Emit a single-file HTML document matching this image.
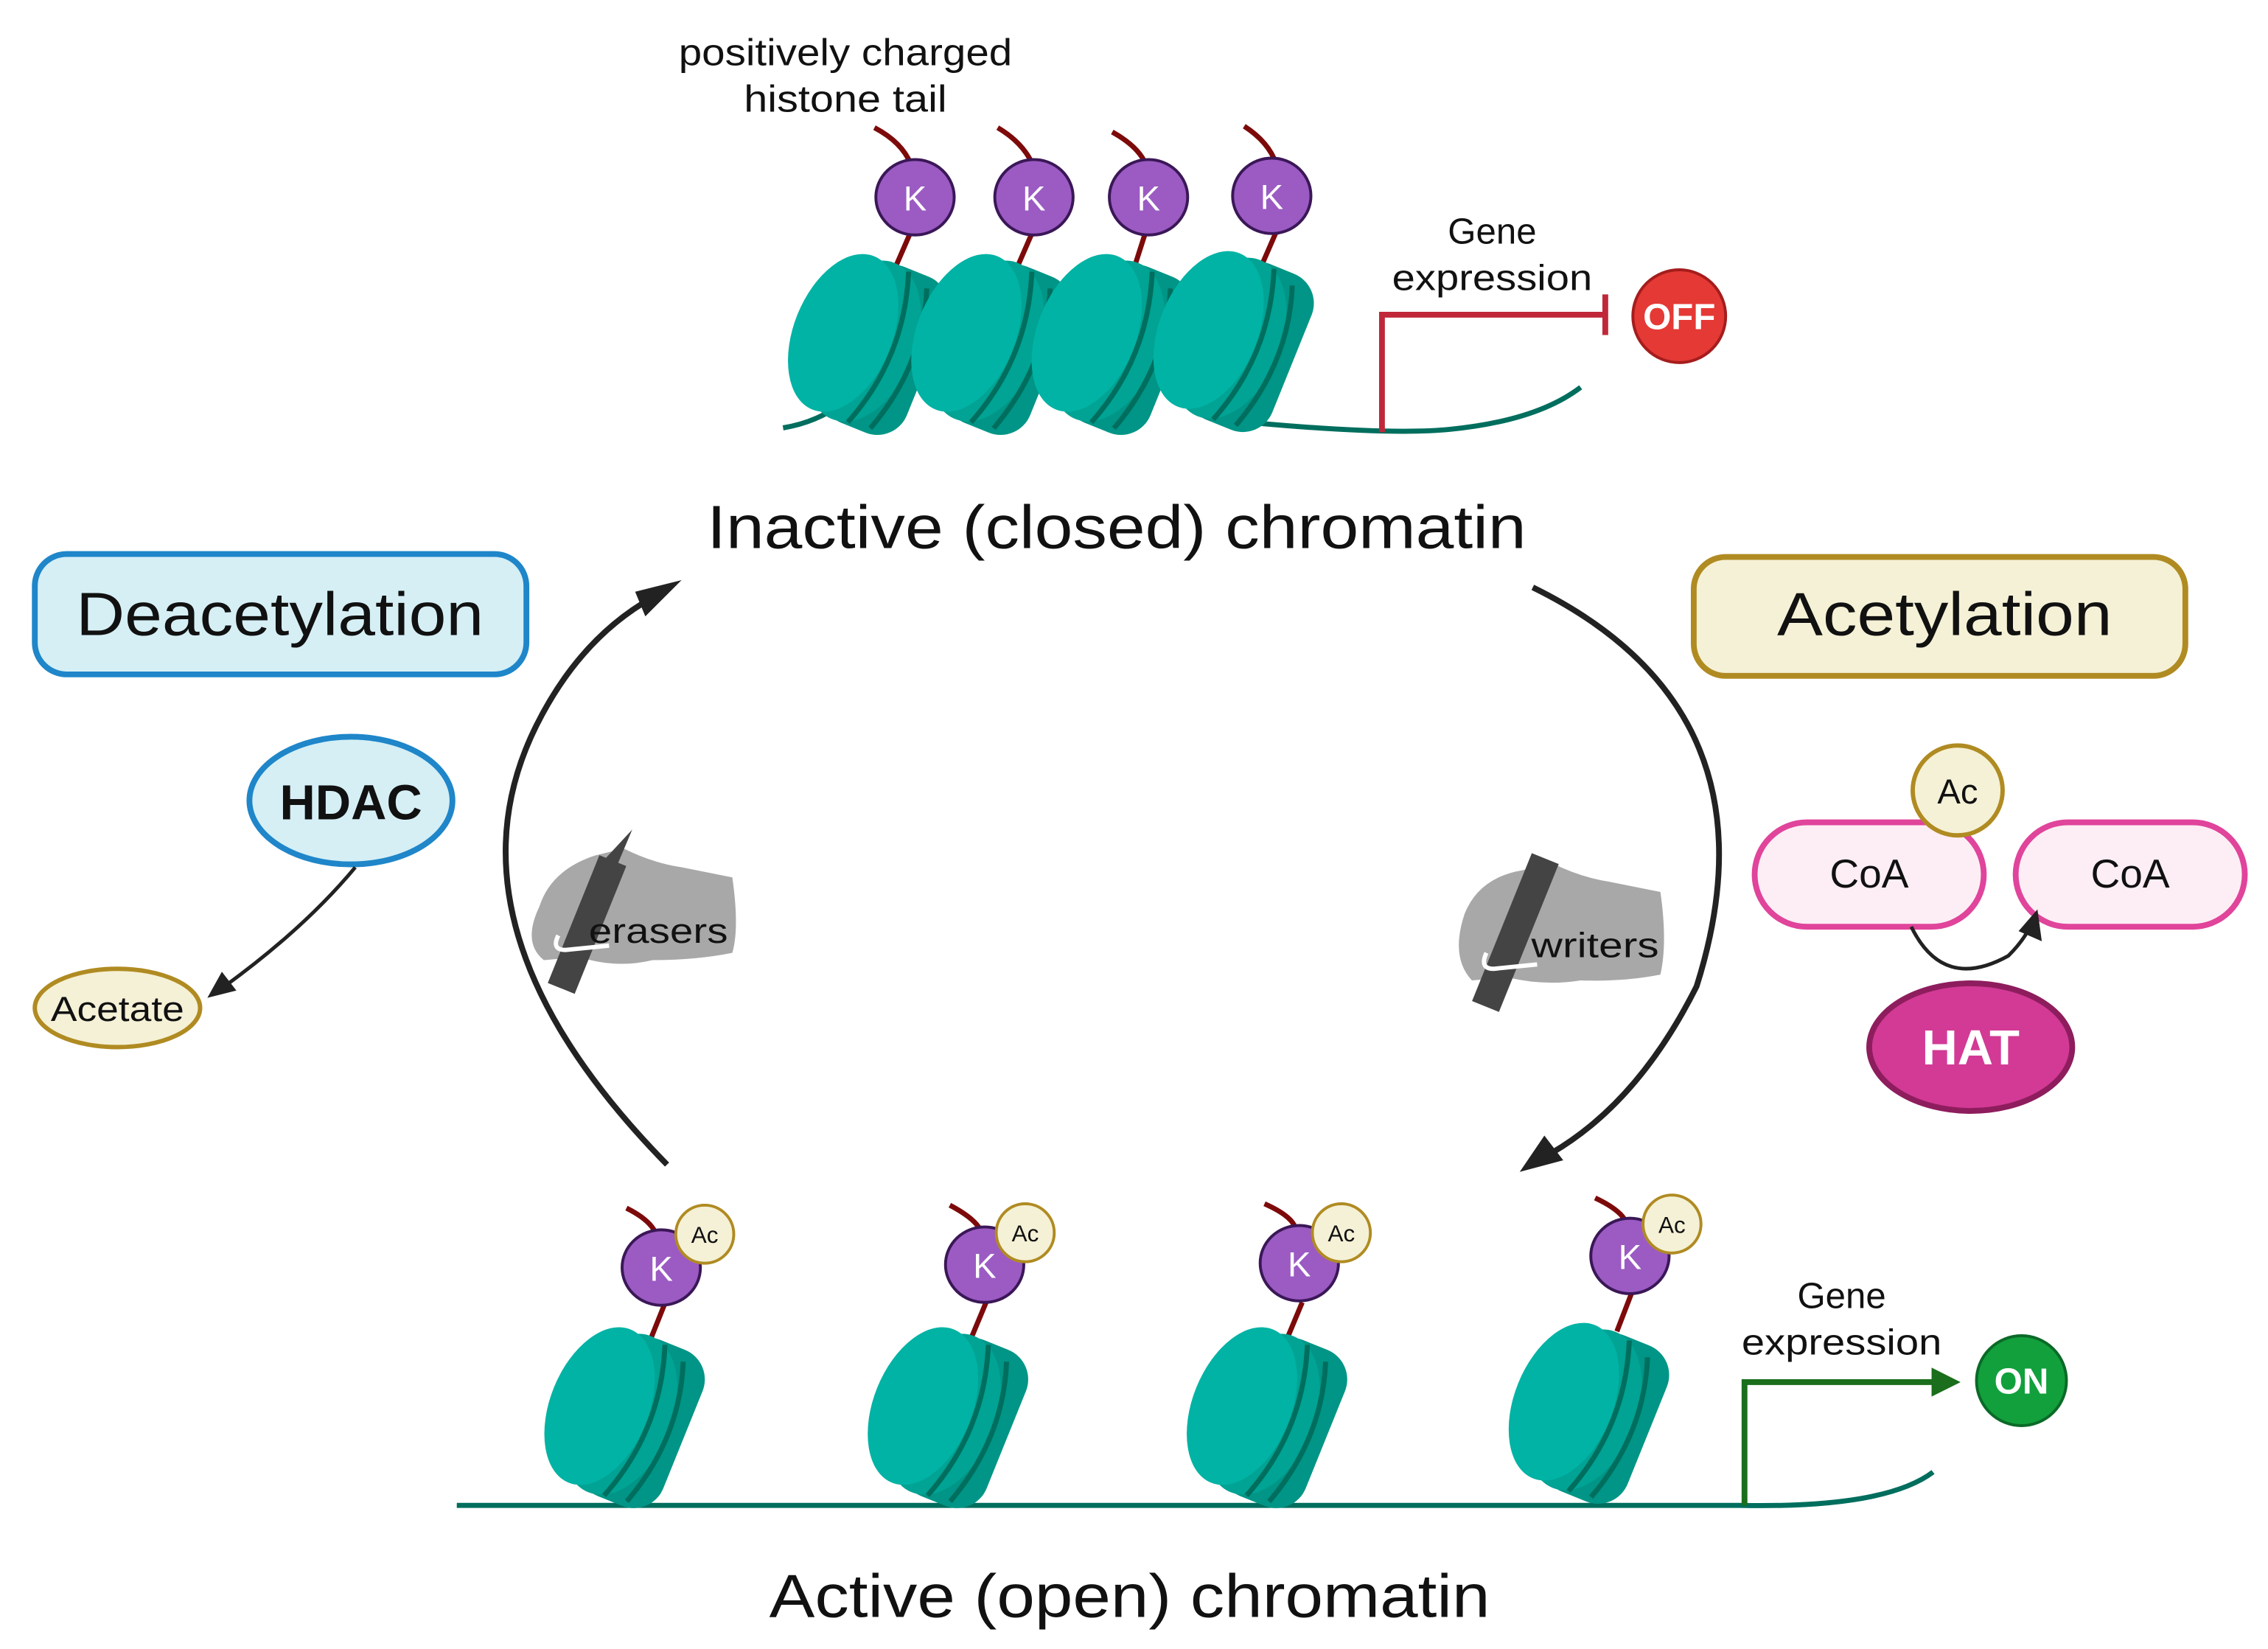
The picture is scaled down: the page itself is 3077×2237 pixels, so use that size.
<!DOCTYPE html>
<html><head><meta charset="utf-8"><style>
html,body{margin:0;padding:0;background:#fff;}
svg{display:block;}
text{font-family:"Liberation Sans",sans-serif;}
</style></head><body>
<svg width="3077" height="2237" viewBox="0 0 1564 1137" xmlns="http://www.w3.org/2000/svg">
<defs>
<g id="nuc">
  <g transform="rotate(22)">
    <rect x="-20" y="-58" width="62" height="116" rx="22" fill="#009586"/>
    <ellipse cx="-5" cy="0" rx="36" ry="58" fill="#00a394"/>
    <ellipse cx="-20" cy="0" rx="34" ry="57" fill="#00b3a5"/>
    <path d="M6,-56 Q26,0 6,56" fill="none" stroke="#006e5e" stroke-width="3.5"/>
    <path d="M22,-50 Q40,0 22,54" fill="none" stroke="#006e5e" stroke-width="3.5"/>
  </g>
</g>
<g id="K">
  <ellipse cx="0" cy="0" rx="27" ry="26" fill="#9b5bc3" stroke="#3b1757" stroke-width="2"/>
  <text x="0" y="9" text-anchor="middle" font-size="24" fill="#fff">K</text>
</g>
</defs>

<text x="583" y="45" text-anchor="middle" font-size="26" fill="#111" textLength="230" lengthAdjust="spacingAndGlyphs">positively charged</text>
<text x="583" y="77" text-anchor="middle" font-size="26" fill="#111" textLength="140" lengthAdjust="spacingAndGlyphs">histone tail</text>

<g stroke="#7d0a0a" stroke-width="3.5" fill="none">
<path d="M603,88 Q622,98 628,113 M628,160 L618,183"/>
<path d="M688,88 Q705,98 712,113 M712,160 L702,183"/>
<path d="M767,91 Q785,101 790,113 M790,160 L782,185"/>
<path d="M858,87 Q875,98 880,113 M880,160 L870,183"/>
</g>
<path d="M540,295 Q570,290 590,270 M870,292 Q960,300 1000,296 Q1060,290 1090,267" fill="none" stroke="#006e5e" stroke-width="3.5"/>
<use href="#nuc" x="600" y="237"/>
<use href="#nuc" x="685" y="237"/>
<use href="#nuc" x="768" y="237"/>
<use href="#nuc" x="852" y="235"/>
<use href="#K" x="631" y="136"/>
<use href="#K" x="713" y="136"/>
<use href="#K" x="792" y="136"/>
<use href="#K" x="877" y="135"/>

<text x="1029" y="168" text-anchor="middle" font-size="25" fill="#111">Gene</text>
<text x="1029" y="200" text-anchor="middle" font-size="25" fill="#111" textLength="138" lengthAdjust="spacingAndGlyphs">expression</text>
<path d="M953,298 V217 H1107 M1107,203 V231" fill="none" stroke="#c0283a" stroke-width="4"/>
<circle cx="1158" cy="218" r="32" fill="#e53935" stroke="#a51d1d" stroke-width="2"/>
<text x="1158" y="227" text-anchor="middle" font-size="25" font-weight="bold" fill="#fff">OFF</text>

<text x="770" y="378" text-anchor="middle" font-size="42" fill="#111" textLength="565" lengthAdjust="spacingAndGlyphs">Inactive (closed) chromatin</text>

<path d="M460,803 Q300,640 370,500 Q400,440 450,412" fill="none" stroke="#222" stroke-width="4"/>
<polygon points="470,400 445,425 438,408" fill="#222"/>
<path d="M1057,405 Q1230,490 1170,680 Q1130,760 1070,795" fill="none" stroke="#222" stroke-width="4"/>
<polygon points="1048,808 1065,783 1078,800" fill="#222"/>

<rect x="24" y="382" width="339" height="83" rx="22" fill="#d5eff5" stroke="#1f86c9" stroke-width="4"/>
<text x="193" y="438" text-anchor="middle" font-size="42" fill="#111" textLength="281" lengthAdjust="spacingAndGlyphs">Deacetylation</text>
<ellipse cx="242" cy="552" rx="70" ry="44" fill="#d5eff5" stroke="#1f86c9" stroke-width="4"/>
<text x="242" y="565" text-anchor="middle" font-size="34" font-weight="bold" fill="#111">HDAC</text>
<path d="M245,598 Q210,640 155,680" fill="none" stroke="#222" stroke-width="2.5"/>
<polygon points="143,688 153,670 163,683" fill="#222"/>
<ellipse cx="81" cy="695" rx="57" ry="27" fill="#f5f1d6" stroke="#b08b22" stroke-width="3"/>
<text x="81" y="704" text-anchor="middle" font-size="24" fill="#111" textLength="92" lengthAdjust="spacingAndGlyphs">Acetate</text>

<rect x="1168" y="384" width="339" height="82" rx="22" fill="#f5f1d6" stroke="#b08b22" stroke-width="4"/>
<text x="1341" y="438" text-anchor="middle" font-size="42" fill="#111" textLength="231" lengthAdjust="spacingAndGlyphs">Acetylation</text>
<rect x="1210" y="567" width="158" height="72" rx="36" fill="#fdeef5" stroke="#e0449b" stroke-width="4"/>
<text x="1289" y="612" text-anchor="middle" font-size="28" fill="#111">CoA</text>
<rect x="1390" y="567" width="158" height="72" rx="36" fill="#fdeef5" stroke="#e0449b" stroke-width="4"/>
<text x="1469" y="612" text-anchor="middle" font-size="28" fill="#111">CoA</text>
<circle cx="1350" cy="545" r="31" fill="#f5f1d6" stroke="#b08b22" stroke-width="3"/>
<text x="1350" y="554" text-anchor="middle" font-size="24" fill="#111">Ac</text>
<path d="M1318,639 Q1340,684 1385,659 Q1395,649 1400,639" fill="none" stroke="#222" stroke-width="2.5"/>
<polygon points="1405,627 1408,649 1392,642" fill="#222"/>
<ellipse cx="1359" cy="722" rx="70" ry="44" fill="#d23a95" stroke="#8e1d5e" stroke-width="4"/>
<text x="1359" y="734" text-anchor="middle" font-size="34" font-weight="bold" fill="#fff">HAT</text>

<g>
<path d="M372,625 Q380,600 410,590 L430,585 Q450,595 470,598 Q490,602 505,605 Q510,640 505,657 Q480,662 450,662 Q425,668 400,660 L375,662 Q360,650 372,625Z" fill="#a8a8a8"/>
<polygon points="436,572 425,598 410,600" fill="#444"/>
<rect x="395" y="590" width="20" height="95" fill="#444" transform="rotate(22 405 637)"/>
<path d="M385,645 Q380,655 390,655 L420,652" fill="none" stroke="#fff" stroke-width="3"/>
<text x="454" y="650" text-anchor="middle" font-size="24" fill="#111" textLength="96" lengthAdjust="spacingAndGlyphs">erasers</text>
</g>
<g>
<path d="M1010,630 Q1020,605 1050,600 L1070,595 Q1090,605 1110,608 Q1130,612 1145,615 Q1150,650 1145,672 Q1120,677 1090,676 Q1065,680 1040,674 L1015,676 Q1000,660 1010,630Z" fill="#a8a8a8"/>
<rect x="1035" y="588" width="20" height="110" fill="#444" transform="rotate(22 1045 643)"/>
<path d="M1025,657 Q1020,668 1030,668 L1060,665" fill="none" stroke="#fff" stroke-width="3"/>
<text x="1100" y="660" text-anchor="middle" font-size="24" fill="#111" textLength="88" lengthAdjust="spacingAndGlyphs">writers</text>
</g>

<path d="M315,1038 L1200,1038 Q1300,1040 1333,1015" fill="none" stroke="#006e5e" stroke-width="3.5"/>
<g stroke="#7d0a0a" stroke-width="3.5" fill="none">
<path d="M432,833 Q448,841 452,850 M458,900 L448,925"/>
<path d="M655,831 Q672,840 676,848 M680,898 L670,922"/>
<path d="M872,830 Q890,838 893,846 M898,898 L888,922"/>
<path d="M1100,826 Q1117,834 1121,842 M1125,892 L1115,918"/>
</g>
<use href="#nuc" x="432" y="977"/>
<use href="#nuc" x="655" y="977"/>
<use href="#nuc" x="875" y="977"/>
<use href="#nuc" x="1097" y="974"/>
<use href="#K" x="456" y="874"/>
<use href="#K" x="679" y="872"/>
<use href="#K" x="896" y="871"/>
<use href="#K" x="1124" y="866"/>
<g font-size="16" fill="#111" text-anchor="middle">
<circle cx="486" cy="851" r="20" fill="#f5f1d6" stroke="#b08b22" stroke-width="2"/><text x="486" y="857">Ac</text>
<circle cx="707" cy="850" r="20" fill="#f5f1d6" stroke="#b08b22" stroke-width="2"/><text x="707" y="856">Ac</text>
<circle cx="925" cy="850" r="20" fill="#f5f1d6" stroke="#b08b22" stroke-width="2"/><text x="925" y="856">Ac</text>
<circle cx="1153" cy="844" r="20" fill="#f5f1d6" stroke="#b08b22" stroke-width="2"/><text x="1153" y="850">Ac</text>
</g>

<text x="1270" y="902" text-anchor="middle" font-size="25" fill="#111">Gene</text>
<text x="1270" y="934" text-anchor="middle" font-size="25" fill="#111" textLength="138" lengthAdjust="spacingAndGlyphs">expression</text>
<path d="M1203,1038 V953 H1335" fill="none" stroke="#1b6e1b" stroke-width="4"/>
<polygon points="1352,953 1332,943 1332,963" fill="#1b6e1b"/>
<circle cx="1394" cy="952" r="31" fill="#12a03c" stroke="#0b6a28" stroke-width="2"/>
<text x="1394" y="961" text-anchor="middle" font-size="25" font-weight="bold" fill="#fff">ON</text>

<text x="779" y="1115" text-anchor="middle" font-size="42" fill="#111" textLength="497" lengthAdjust="spacingAndGlyphs">Active (open) chromatin</text>
</svg>
</body></html>
